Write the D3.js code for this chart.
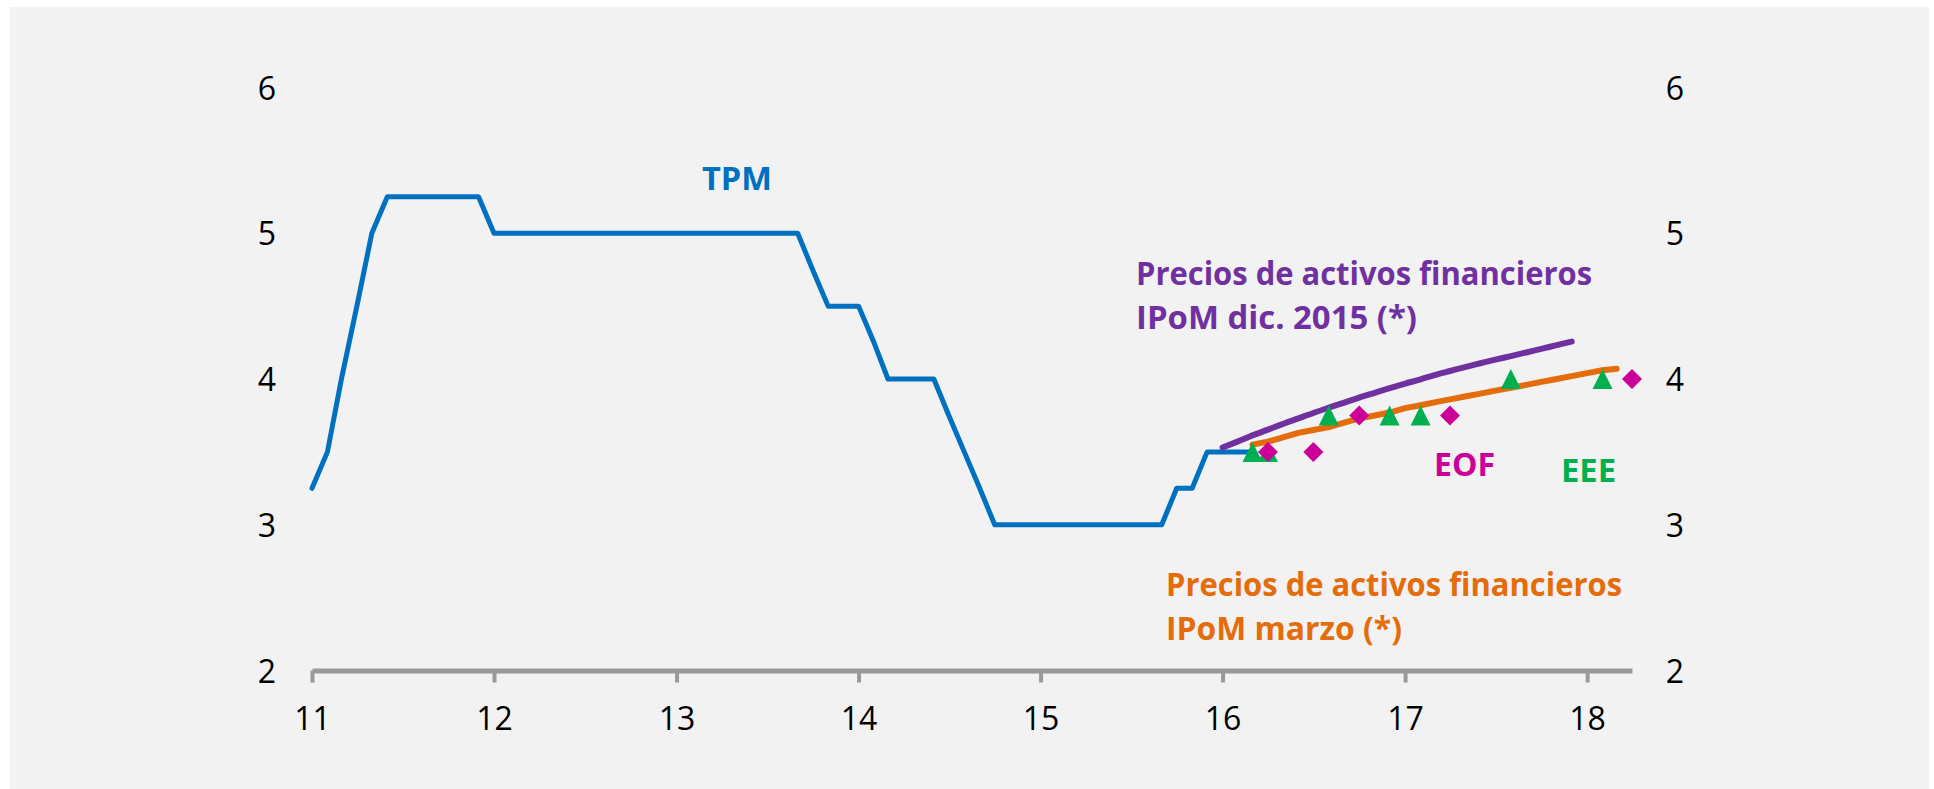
<!DOCTYPE html>
<html>
<head>
<meta charset="utf-8">
<script src="https://cdn.jsdelivr.net/npm/d3@7"></script>
<style>
  body { margin: 0; background: #ffffff; }
  svg { display: block; }
</style>
</head>
<body>
<svg id="chart"></svg>
<script>
// TPM, monthly values starting Jan 2011
var tpmStart = "2011-01";
var tpm = [
  3.25, 3.5, 4.0, 4.5, 5.0, 5.25, 5.25, 5.25, 5.25, 5.25, 5.25, 5.25,
  5.0, 5.0, 5.0, 5.0, 5.0, 5.0, 5.0, 5.0, 5.0, 5.0, 5.0, 5.0,
  5.0, 5.0, 5.0, 5.0, 5.0, 5.0, 5.0, 5.0, 5.0, 4.75, 4.5, 4.5,
  4.5, 4.25, 4.0, 4.0, 4.0, 4.0, 3.75, 3.5, 3.25, 3.0, 3.0, 3.0,
  3.0, 3.0, 3.0, 3.0, 3.0, 3.0, 3.0, 3.0, 3.0, 3.25, 3.25, 3.5,
  3.5, 3.5, 3.5
];

// Precios de activos financieros, IPoM dic. 2015 (monthly from Jan 2016)
var dicStart = "2016-01";
var dic2015 = [
  3.530, 3.572, 3.613, 3.653, 3.692, 3.730, 3.767, 3.803, 3.838, 3.872, 3.905, 3.937,
  3.968, 3.998, 4.027, 4.055, 4.082, 4.108, 4.133, 4.157, 4.182, 4.207, 4.232, 4.257
];

// Precios de activos financieros, IPoM marzo (monthly from Mar 2016)
var marStart = "2016-03";
var marzo = [
  3.55, 3.57, 3.60, 3.63, 3.65, 3.67, 3.70, 3.73, 3.75, 3.77, 3.80, 3.82,
  3.84, 3.86, 3.88, 3.90, 3.92, 3.94, 3.96, 3.98, 4.00, 4.02, 4.04, 4.06, 4.07
];

// survey points
var eofDates = ["2016-04", "2016-07", "2016-10", "2017-04", "2018-04"];
var eofValues = [3.5, 3.5, 3.75, 3.75, 4.0];
var eeeDates = ["2016-03", "2016-04", "2016-08", "2016-12", "2017-02", "2017-08", "2018-02"];
var eeeValues = [3.5, 3.5, 3.75, 3.75, 3.75, 4.0, 4.0];

var yTicks = [2, 3, 4, 5, 6];
var axisStart = "2011-01", axisEnd = "2018-04";

var width = 1934, height = 789;
var font = "'Open Sans', 'Liberation Sans', sans-serif";

var parseMonth = d3.timeParse("%Y-%m");

function monthly(start, values) {
    var d0 = parseMonth(start);
    return values.map(function(v, i) {
        return {date: d3.timeMonth.offset(d0, i), value: v};
    });
}
function points(dates, values) {
    return dates.map(function(d, i) { return {date: parseMonth(d), value: values[i]}; });
}

var x = d3.scaleTime()
    .domain([parseMonth(axisStart), parseMonth(axisEnd)])
    .range([312, 1632]);
var y = d3.scaleLinear().domain([2, 6]).range([670.5, 87.5]);

var svg = d3.select("#chart")
    .attr("width", width)
    .attr("height", height);

svg.append("rect")
    .attr("x", 10).attr("y", 7)
    .attr("width", 1919).attr("height", height - 7)
    .attr("fill", "#f2f2f2");

// x axis
var xAxis = d3.axisBottom(x)
    .ticks(d3.timeYear.every(1))
    .tickFormat(d3.timeFormat("%y"))
    .tickSize(12)
    .tickSizeOuter(0);

var gx = svg.append("g")
    .attr("transform", "translate(0," + y(2) + ")")
    .call(xAxis)
    .attr("font-family", font)
    .attr("font-size", 32);
gx.select(".domain").attr("stroke", "#999999").attr("stroke-width", 5);
gx.selectAll(".tick line").attr("stroke", "#999999").attr("stroke-width", 4);
gx.selectAll(".tick text").attr("y", 59.5).attr("dy", 0).attr("fill", "#000");

// y labels on both sides
function yLabels(xpos, axis) {
    var g = svg.append("g")
        .attr("transform", "translate(" + xpos + ",0)")
        .call(axis.tickValues(yTicks).tickSize(0).tickPadding(0).tickFormat(d3.format("d")))
        .attr("font-family", font)
        .attr("font-size", 32);
    g.select(".domain").remove();
    g.selectAll(".tick text")
        .attr("x", 0).attr("dy", "0.36em")
        .attr("text-anchor", "middle")
        .attr("fill", "#000");
}
yLabels(267, d3.axisLeft(y));
yLabels(1675, d3.axisRight(y));

var line = d3.line()
    .x(function(d) { return x(d.date); })
    .y(function(d) { return y(d.value); });

var smooth = d3.line()
    .curve(d3.curveMonotoneX)
    .x(function(d) { return x(d.date); })
    .y(function(d) { return y(d.value); });

svg.append("path")
    .attr("d", line(monthly(tpmStart, tpm)))
    .attr("fill", "none")
    .attr("stroke", "#0070c0")
    .attr("stroke-width", 5)
    .attr("stroke-linejoin", "round")
    .attr("stroke-linecap", "round");

svg.append("path")
    .attr("d", smooth(monthly(dicStart, dic2015)))
    .attr("fill", "none")
    .attr("stroke", "#7030a0")
    .attr("stroke-width", 6)
    .attr("stroke-linejoin", "round")
    .attr("stroke-linecap", "round");

svg.append("path")
    .attr("d", line(monthly(marStart, marzo)))
    .attr("fill", "none")
    .attr("stroke", "#e46c0a")
    .attr("stroke-width", 6)
    .attr("stroke-linejoin", "round")
    .attr("stroke-linecap", "round");

// EEE triangles
svg.selectAll(".eee")
    .data(points(eeeDates, eeeValues))
    .enter().append("path")
    .attr("class", "eee")
    .attr("fill", "#00b050")
    .attr("d", function(d) {
        var cx = x(d.date), cy = y(d.value), r = 10;
        return "M" + cx + "," + (cy - r) + "L" + (cx + r) + "," + (cy + r) +
            "L" + (cx - r) + "," + (cy + r) + "Z";
    });

// EOF diamonds
svg.selectAll(".eof")
    .data(points(eofDates, eofValues))
    .enter().append("path")
    .attr("class", "eof")
    .attr("fill", "#cc0099")
    .attr("d", function(d) {
        var cx = x(d.date), cy = y(d.value), r = 10;
        return "M" + cx + "," + (cy - r) + "L" + (cx + r) + "," + cy +
            "L" + cx + "," + (cy + r) + "L" + (cx - r) + "," + cy + "Z";
    });

// annotations
var notes = [
    {text: "TPM", x: 702, y: 190, w: 70, color: "#0070c0"},
    {text: "Precios de activos financieros", x: 1136, y: 285, w: 456, color: "#7030a0"},
    {text: "IPoM dic. 2015 (*)", x: 1136, y: 329, w: 281, color: "#7030a0"},
    {text: "Precios de activos financieros", x: 1166, y: 596, w: 456, color: "#e46c0a"},
    {text: "IPoM marzo (*)", x: 1166, y: 640, w: 236, color: "#e46c0a"},
    {text: "EOF", x: 1434, y: 476, w: 61, color: "#cc0099"},
    {text: "EEE", x: 1561, y: 482, w: 55, color: "#00b050"}
];

svg.selectAll(".note")
    .data(notes)
    .enter().append("text")
    .attr("class", "note")
    .attr("x", function(d) { return d.x; })
    .attr("y", function(d) { return d.y; })
    .attr("textLength", function(d) { return d.w; })
    .attr("lengthAdjust", "spacingAndGlyphs")
    .attr("font-family", font)
    .attr("font-size", 32)
    .attr("font-weight", "bold")
    .attr("fill", function(d) { return d.color; })
    .text(function(d) { return d.text; });
</script>
</body>
</html>
